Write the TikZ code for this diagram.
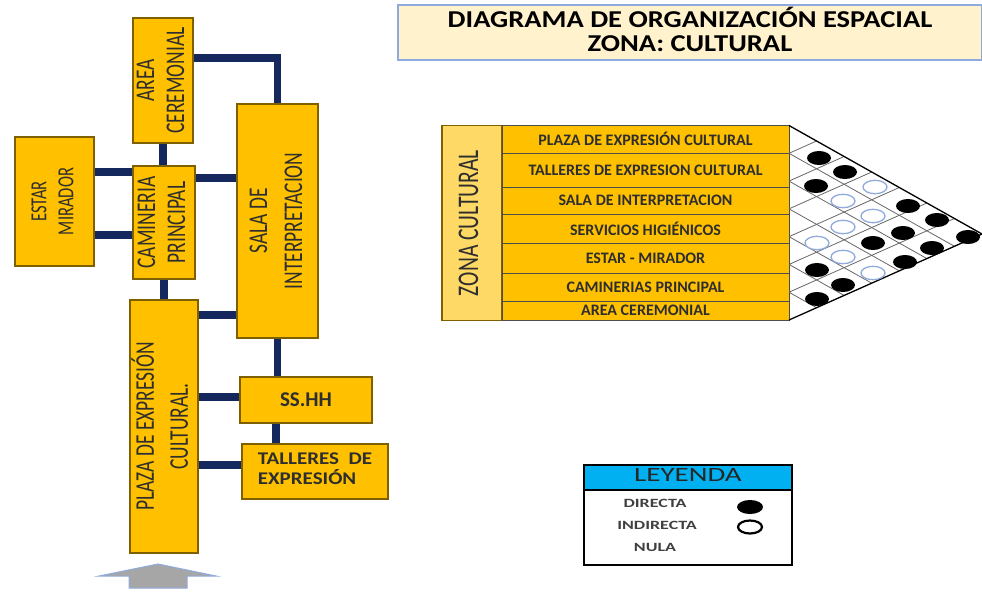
\documentclass[tikz,border=0pt]{standalone}
\usepackage{fontspec}
\setmainfont{Carlito}
\usetikzlibrary{calc}

\definecolor{gold}{HTML}{FFC000}
\definecolor{goldline}{HTML}{7F6000}
\definecolor{navy}{HTML}{14285E}
\definecolor{cream}{HTML}{FFF2CC}
\definecolor{zonefill}{HTML}{FFD966}
\definecolor{steel}{HTML}{8FAADC}
\definecolor{skyhead}{HTML}{00B0F0}
\definecolor{ink}{HTML}{2E2E2E}

\newcommand{\uptext}[1]{\rotatebox{90}{\scalebox{0.72}[1]{\begin{tabular}{@{}c@{}}#1\end{tabular}}}}
\newcommand{\lowtext}[2][0.85]{\scalebox{1}[#1]{\begin{tabular}{@{}c@{}}#2\end{tabular}}}

\begin{document}
\begin{tikzpicture}[x=1pt,y=-1pt,
  box node/.style={draw=goldline,line width=1.6pt,fill=gold,inner sep=0pt,text=ink},
  row node/.style={draw=black!70,line width=0.8pt,fill=gold,minimum width=287pt,inner sep=0pt,
    text=ink,font=\bfseries\fontsize{16}{16}\selectfont},
  link line/.style={draw=navy,line width=7.5pt},
  grid line/.style={draw=black!60,line width=0.8pt},
  legend text/.style={text=black!75,font=\bfseries\fontsize{18}{18}\selectfont}]

  \useasboundingbox (0,0) rectangle (982,608);

  \node[draw=steel,line width=1.5pt,fill=cream,minimum width=584pt,minimum height=55pt,
    inner sep=0pt,font=\bfseries\fontsize{28.5}{28}\selectfont] (title) at (690,32.5)
    {\lowtext{DIAGRAMA DE ORGANIZACIÓN ESPACIAL\\ZONA: CULTURAL}};

  % bloques
  \node[box node,minimum width=60pt,minimum height=125pt,font=\fontsize{27}{30}\selectfont]
    (area) at (163,80.5) {\uptext{AREA\\CEREMONIAL}};
  \node[box node,minimum width=79pt,minimum height=129pt,font=\fontsize{23}{27}\selectfont]
    (estar) at (54.5,201.5) {\uptext{ESTAR\\MIRADOR}};
  \node[box node,minimum width=62pt,minimum height=113pt,font=\fontsize{27}{30}\selectfont]
    (camin) at (164,222.5) {\uptext{CAMINERIA\\PRINCIPAL}};
  \node[box node,minimum width=81pt,minimum height=234pt,font=\fontsize{27}{35}\selectfont]
    (sala) at (277.5,221) {\uptext{SALA DE\\INTERPRETACION}};
  \node[box node,minimum width=62pt,minimum height=253pt,font=\fontsize{27}{34}\selectfont]
    (plaza) at (164,426.5) {\uptext{PLAZA DE EXPRESIÓN\\CULTURAL.}};
  \node[box node,minimum width=132pt,minimum height=46pt,font=\bfseries\fontsize{21}{21}\selectfont]
    (sshh) at (306,400) {SS.HH};
  \node[box node,minimum width=146pt,minimum height=55pt,font=\bfseries\fontsize{21}{20}\selectfont]
    (talleres) at (315,471.5)
    {\scalebox{1}[0.85]{\begin{tabular}{@{}l@{}}TALLERES\ \ DE\\EXPRESIÓN\end{tabular}}};

  \draw[link line] ([yshift=22.5pt]area.east) -| (sala.north);
  \draw[link line] (area.south) -- (area.south |- camin.north);
  \draw[link line] ([yshift=29.5pt]estar.east) -- ([yshift=29.5pt]estar.east -| camin.west);
  \draw[link line] ([yshift=-33.5pt]estar.east) -- ([yshift=-33.5pt]estar.east -| camin.west);
  \draw[link line] ([yshift=44.5pt]camin.east) -- ([yshift=44.5pt]camin.east -| sala.west);
  \draw[link line] (camin.south) -- (camin.south |- plaza.north);
  \draw[link line] ([yshift=111.5pt]plaza.east) -- ([yshift=111.5pt]plaza.east -| sala.west);
  \draw[link line] (sala.south) -- (sala.south |- sshh.north);
  \draw[link line] ([yshift=3pt]sshh.west -| plaza.east) -- ([yshift=3pt]sshh.west);
  \draw[link line] ([xshift=-30pt]sshh.south) -- ([xshift=-30pt]sshh.south |- talleres.north);
  \draw[link line] ([yshift=6.5pt]talleres.west -| plaza.east) -- ([yshift=6.5pt]talleres.west);

  \draw[draw=steel,fill=black!35,line width=1pt] (158,564) -- (216,576) -- (187,576) -- (187,588)
    -- (129,588) -- (129,576) -- (99,576) -- cycle;

  % matriz
  \node[draw=goldline,line width=1.2pt,fill=zonefill,minimum width=60pt,minimum height=195pt,
    inner sep=0pt,text=ink,font=\fontsize{30}{30}\selectfont] (zona) at (472,223)
    {\uptext{ZONA CULTURAL}};
  \node[row node,minimum height=27.5pt] (r1) at (645.5,139.25) {PLAZA DE EXPRESIÓN CULTURAL};
  \node[row node,minimum height=34pt] (r2) at (645.5,170) {TALLERES DE EXPRESION CULTURAL};
  \node[row node,minimum height=27pt] (r3) at (645.5,200.5) {SALA DE INTERPRETACION};
  \node[row node,minimum height=29pt] (r4) at (645.5,228.5) {SERVICIOS HIGIÉNICOS};
  \node[row node,minimum height=30pt] (r5) at (645.5,258) {ESTAR - MIRADOR};
  \node[row node,minimum height=28pt] (r6) at (645.5,287) {CAMINERIAS PRINCIPAL};
  \node[row node,minimum height=19pt] (r7) at (645.5,310.5) {AREA CEREMONIAL};

  \coordinate (top) at (789,125.5);
  \coordinate (bot) at (789,320);
  \coordinate (apex) at (982,234);
  \foreach \k in {1,...,6}
    \draw[grid line] ($(top)!\k/7!(bot)$) -- ($(apex)!\k/7!(bot)$)
                     ($(top)!\k/7!(bot)$) -- ($(top)!\k/7!(apex)$);
  \draw[line width=1.3pt] (top) -- (apex) -- (bot);

  \foreach \x/\y in {819/158,845/172,816/186,908/206,937/220,903/233,968/237,
                     873/243,932/248,905/262,817/270,843/285,817/299}
    \fill (\x,\y) ellipse [x radius=12pt,y radius=7pt];
  \foreach \x/\y in {875/187,843/201,873/216,843/227,817/243,843/257,873/273}
    \draw[steel,fill=white,line width=1.3pt] (\x,\y) ellipse [x radius=12pt,y radius=6.7pt];

  % leyenda
  \node[draw,line width=1.3pt,fill=white,minimum width=208pt,minimum height=100pt,inner sep=0pt]
    (legend) at (688,515) {};
  \node[draw,line width=1.3pt,fill=skyhead,minimum width=208pt,minimum height=25pt,inner sep=0pt,
    anchor=north,text=black!85,font=\fontsize{29}{28}\selectfont] (leyenda) at (legend.north)
    {\lowtext[0.7]{LEYENDA}};
  \node[legend text] (directa) at (655,505) {\lowtext[0.7]{DIRECTA}};
  \node[legend text] (indirecta) at (657,527) {\lowtext[0.7]{INDIRECTA}};
  \node[legend text] (nula) at (655,549) {\lowtext[0.7]{NULA}};
  \fill (750,507) ellipse [x radius=13pt,y radius=7pt];
  \draw[line width=2.2pt,fill=white] (750,527) ellipse [x radius=12pt,y radius=6.5pt];
\end{tikzpicture}
\end{document}
